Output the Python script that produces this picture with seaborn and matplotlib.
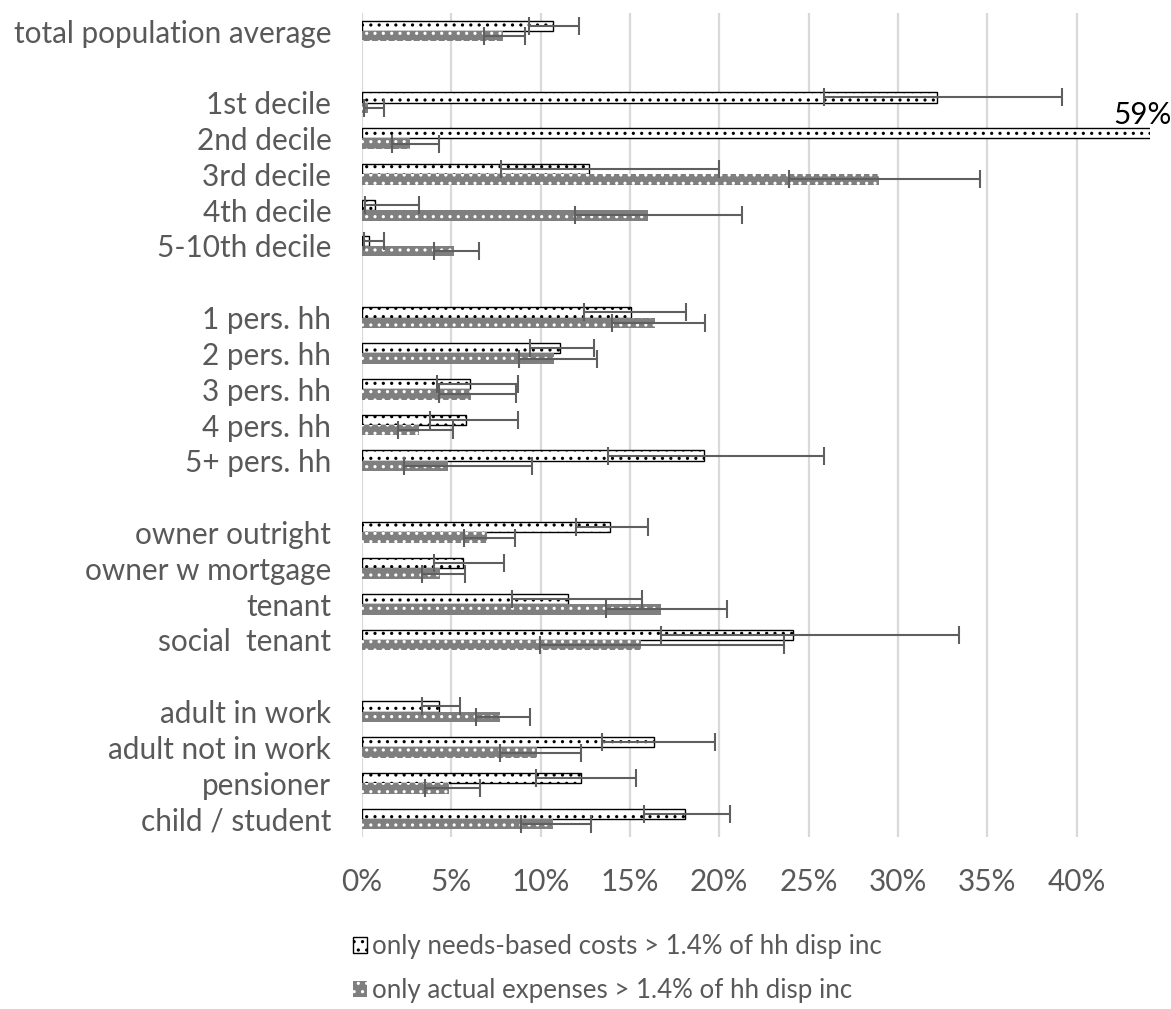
import matplotlib
matplotlib.use("Agg")
import matplotlib.pyplot as plt
from matplotlib.patches import Patch
from matplotlib.ticker import FuncFormatter, MultipleLocator
import numpy as np
import pandas as pd
import seaborn as sns

# Groups of household categories (blank rows separate the groups)
groups = [
    ["total population average"],
    ["1st decile", "2nd decile", "3rd decile", "4th decile", "5-10th decile"],
    ["1 pers. hh", "2 pers. hh", "3 pers. hh", "4 pers. hh", "5+ pers. hh"],
    ["owner outright", "owner w mortgage", "tenant", "social  tenant"],
    ["adult in work", "adult not in work", "pensioner", "child / student"],
]
categories = [c for g in groups for c in g]

series_names = [
    "only needs-based costs > 1.4% of hh disp inc",
    "only actual expenses > 1.4% of hh disp inc",
]

# Share of households (%), with lower / upper confidence bounds
needs_value = [10.67, 32.16, 59.0, 12.70, 0.73, 0.41, 15.06, 11.07, 6.08, 5.82, 19.17,
               13.87, 5.67, 11.55, 24.10, 4.30, 16.35, 12.25, 18.07]
needs_low = [9.36, 25.84, 51.0, 7.79, 0.19, 0.10, 12.43, 9.42, 4.19, 3.82, 13.80,
             11.98, 4.02, 8.39, 16.73, 3.35, 13.46, 9.72, 15.77]
needs_high = [12.13, 39.20, 67.0, 20.00, 3.22, 1.22, 18.15, 13.01, 8.74, 8.74, 25.85,
              16.03, 7.98, 15.69, 33.40, 5.47, 19.78, 15.34, 20.60]

actual_value = [7.90, 0.37, 2.70, 28.95, 16.02, 5.15, 16.42, 10.77, 6.10, 3.22, 4.81,
                7.00, 4.38, 16.76, 15.61, 7.73, 9.78, 4.87, 10.71]
actual_low = [6.85, 0.10, 1.69, 23.90, 11.92, 4.06, 14.02, 8.78, 4.29, 2.04, 2.34,
              5.71, 3.35, 13.67, 9.98, 6.37, 7.75, 3.56, 8.89]
actual_high = [9.12, 1.24, 4.30, 34.60, 21.25, 6.55, 19.23, 13.18, 8.65, 5.09, 9.51,
               8.59, 5.77, 20.43, 23.65, 9.42, 12.25, 6.61, 12.81]

x_max = 44.1  # the 2nd decile needs-based bar runs off the axis and is labelled instead

# Slot order with unique blank spacer names between groups
order = []
for i, g in enumerate(groups):
    if i > 0:
        order.append(" " * i)
    order.extend(g)

df = pd.DataFrame({
    "category": categories * 2,
    "series": [series_names[0]] * len(categories) + [series_names[1]] * len(categories),
    "value": needs_value + actual_value,
    "low": needs_low + actual_low,
    "high": needs_high + actual_high,
})

TEXT = "#595959"
GREY = "#7f7f7f"
ERR = "#5f5f5f"
AXIS_FS = 21.4
LEGEND_FS = 18.6

sns.set_theme(style="white")
plt.rcParams["font.family"] = ["Lato", "DejaVu Sans"]
plt.rcParams["hatch.linewidth"] = 1.1

fig = plt.figure(figsize=(11.71, 10.09), dpi=100)
ax = fig.add_axes([0.309, 0.1705, 0.673, 0.8165])

sns.barplot(data=df, y="category", x="value", hue="series", order=order,
            hue_order=series_names, orient="h", width=0.58, ax=ax,
            legend=False, errorbar=None, saturation=1)

ax.set_xlim(0, x_max)
ax.set_ylim(len(order) - 0.5, -0.5)
ax.xaxis.set_major_locator(MultipleLocator(5))
ax.xaxis.set_major_formatter(FuncFormatter(lambda v, p: f"{v:.0f}%"))
ax.grid(axis="x", color="#d9d9d9", linewidth=1.6)
ax.grid(axis="y", visible=False)
ax.set_axisbelow(True)
for s in ax.spines.values():
    s.set_visible(False)
ax.tick_params(axis="both", length=0, labelsize=AXIS_FS, colors=TEXT)
ax.tick_params(axis="y", pad=22)
ax.tick_params(axis="x", pad=22)
ax.set_yticks(range(len(order)))
ax.set_yticklabels([o.strip() for o in order])
ax.set_xlabel("")
ax.set_ylabel("")

lookup = df.set_index(["series", "category"])
styles = [
    dict(facecolor="white", edgecolor="black", linewidth=1.0, hatch=".."),
    dict(facecolor=GREY, edgecolor="white", linewidth=0.0, hatch=".."),
]
bar_containers = list(ax.containers)
for k, container in enumerate(bar_containers):
    name = series_names[k]
    for bar in container:
        bar.set(**styles[k])
        yc = bar.get_y() + bar.get_height() / 2
        cat = order[int(round(yc))]
        row = lookup.loc[(name, cat)]
        v = bar.get_width()
        ax.errorbar(v, yc, xerr=[[v - row["low"]], [row["high"] - v]],
                    fmt="none", ecolor=ERR, elinewidth=1.5, capsize=6.5,
                    capthick=1.5, zorder=5)
        if row["value"] > x_max:
            ax.text(x_max - 0.4, bar.get_y() + 0.02, f"{row['value']:.0f}%",
                    ha="center", va="bottom", fontsize=AXIS_FS, color="black",
                    clip_on=False, zorder=6)

handles = [Patch(**styles[0]), Patch(**styles[1])]
fig.legend(handles, series_names, loc="upper center", bbox_to_anchor=(0.527, 0.097),
           frameon=False, fontsize=LEGEND_FS, labelcolor=TEXT, handlelength=0.55,
           handleheight=0.55, handletextpad=0.2, labelspacing=0.72, ncol=1)

fig.savefig("out.png", dpi=100)
